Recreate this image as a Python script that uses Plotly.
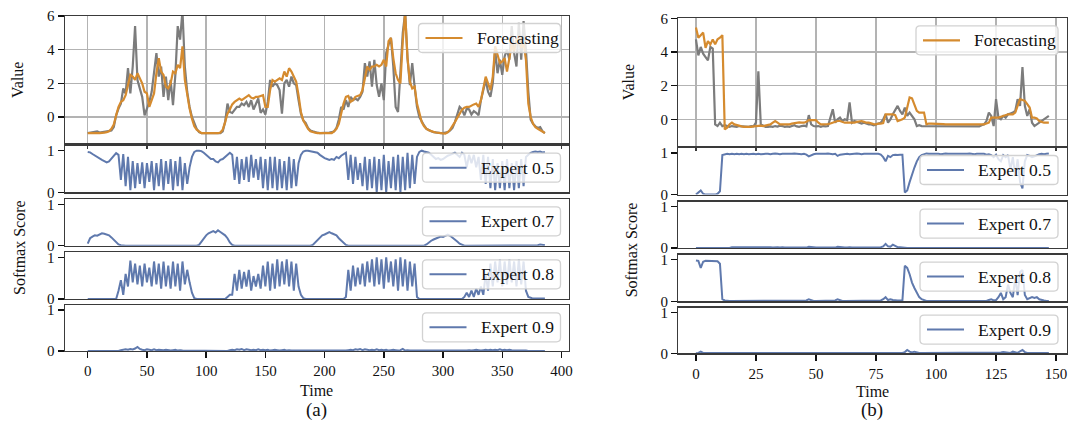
import plotly.graph_objects as go

W, H = 1070, 428

# ---------------- Panel (a) data (time step 2) ----------------
time_a = list(range(0, 388, 2))

truth_a = [
    -0.95, -0.93, -0.92, -0.9, -0.85, -0.92, -0.9, -0.9, -0.88, -0.85,
    -0.8, -0.6, 0.1, 0.5, 0.8, 1.7, 1.4, 2.9, 1.4, 3.0,
    5.4, 2.2, 1.7, 1.2, 0.1, 0.5, 0.9, 1.5, 2.8, 3.8,
    2.4, 3.0, 1.2, 2.4, 1.0, 2.2, 0.7, 2.5, 5.4, 4.6,
    6.3, 3.0, 1.5, 0.6, 0.0, -0.4, -0.7, -0.9, -0.95, -0.95,
    -0.96, -0.95, -0.97, -0.95, -0.96, -0.95, -0.95, -0.85, -0.3, 0.8,
    0.3, 0.24, 0.45, 0.6, 0.6, 0.8, 0.7, 0.9, 0.6, 1.0,
    0.45, 0.8, 1.1, 0.25, 0.45, 0.15, 0.9, 2.2, 1.8, 2.0,
    1.9, 1.6, 0.2, 2.0, 2.2, 1.8, 2.4, 2.0, 1.9, 1.0,
    0.2, -0.2, -0.35, -0.65, -0.8, -0.85, -0.9, -0.93, -0.95, -0.95,
    -0.96, -0.95, -0.93, -0.9, -0.85, -0.65, -0.15, 0.6, 0.45, 1.0,
    0.6, 1.2, 1.0, 1.1, 1.0, 1.2, 1.5, 3.2, 2.4, 3.3,
    1.8, 3.4, 1.9, 1.2, 2.0, 1.0, 3.8, 4.3, 4.7, 3.0,
    0.6, 0.3, 2.6, 5.0, 6.2, 3.5, 1.9, 3.2, 1.8, 0.6,
    0.0, -0.3, -0.5, -0.7, -0.8, -0.85, -0.9, -0.93, -0.95, -0.95,
    -0.96, -0.95, -0.9, -0.8, -0.65, -0.3, 0.1, 0.6, 0.45, 0.1,
    0.5, 0.45, 0.15, 0.35, 0.25, 0.1, 1.0, 1.6, 2.2, 1.5,
    1.2, 2.0, 4.0, 2.6, 3.4, 2.5, 3.6, 4.0, 3.4, 5.4,
    3.8, 3.0, 5.6, 3.4, 5.7, 4.0, 1.5, -0.15, -0.4, -0.55,
    -0.65, -0.6, -0.85, -0.95,
]

forecast_a = [
    -0.95, -0.96, -0.95, -0.95, -0.96, -0.95, -0.95, -0.93, -0.9, -0.85,
    -0.7, -0.45, 0.1, 0.6, 0.9, 1.0, 1.3, 1.9, 2.5, 2.4,
    2.2, 2.6, 2.3, 2.0, 1.5, 1.4, 0.6, 1.0, 1.4, 2.6,
    3.5, 2.7, 2.5, 1.8, 1.7, 2.0, 2.7, 2.6, 3.1, 2.9,
    4.2, 2.2, 1.2, 0.5, -0.1, -0.55, -0.75, -0.88, -0.95, -0.95,
    -0.96, -0.97, -0.96, -0.95, -0.95, -0.96, -0.92, -0.75, -0.3, 0.2,
    0.45, 0.75, 0.9, 1.0, 1.1, 1.0, 1.1, 1.2, 1.3, 1.15,
    1.1, 1.2, 1.2, 1.25, 1.3, 0.6, 0.6, 1.6, 2.2, 2.1,
    2.2, 2.3, 2.2, 2.7, 2.4, 2.9, 2.7, 2.4, 2.1, 1.3,
    0.3, -0.2, -0.5, -0.7, -0.85, -0.9, -0.93, -0.95, -0.95, -0.96,
    -0.97, -0.98, -0.98, -0.96, -0.85, -0.7, -0.4, 0.2, 0.8, 1.2,
    1.25, 0.9, 1.0, 1.2, 1.25, 1.3, 1.6, 2.4, 3.0, 2.8,
    3.0, 3.0, 3.1, 3.0, 3.1, 3.4, 3.0, 4.5, 4.7, 3.5,
    2.6, 2.2, 2.0, 4.5, 6.2, 3.5, 2.1, 1.7, 1.8, 0.8,
    0.2, -0.3, -0.55, -0.7, -0.78, -0.85, -0.88, -0.92, -0.95, -0.96,
    -0.97, -0.98, -0.9, -0.75, -0.55, -0.3, -0.05, 0.2, 0.43, 0.55,
    0.6, 0.6, 0.7, 0.75, 0.8, 0.6, 1.0, 1.8, 2.4, 2.0,
    1.6, 2.4, 4.2, 3.7, 3.2, 3.3, 3.5, 2.7, 3.6, 4.3,
    3.9, 4.6, 4.8, 4.1, 4.4, 3.4, 0.8, 0.0, -0.4, -0.6,
    -0.7, -0.8, -0.88, -0.95,
]

expert05_a = [
    0.97, 0.96, 0.92, 0.88, 0.84, 0.8, 0.78, 0.75, 0.72, 0.74,
    0.8, 0.86, 0.94, 0.9, 0.3, 0.92, 0.15, 0.85, 0.05, 0.75,
    0.1, 0.7, 0.2, 0.72, 0.1, 0.7, 0.25, 0.75, 0.05, 0.7,
    0.15, 0.8, 0.05, 0.75, 0.2, 0.8, 0.05, 0.75, 0.15, 0.85,
    0.05, 0.7, 0.2, 0.6, 0.85, 0.97, 1.0, 1.0, 0.99, 0.95,
    0.9, 0.85, 0.8, 0.8, 0.74, 0.72, 0.78, 0.8, 0.85, 0.9,
    0.95, 0.9, 0.3, 0.85, 0.2, 0.8, 0.3, 0.85, 0.25, 0.9,
    0.35, 0.8, 0.3, 0.85, 0.1, 0.8, 0.05, 0.85, 0.1, 0.85,
    0.05, 0.8, 0.1, 0.75, 0.05, 0.85, 0.1, 0.8, 0.15, 0.7,
    0.9, 0.98, 1.0, 1.0, 0.99, 0.98, 0.97, 0.95, 0.9, 0.85,
    0.82, 0.8, 0.78, 0.8, 0.78, 0.85, 0.82, 0.88, 0.92, 0.95,
    0.3, 0.9, 0.2, 0.85, 0.3, 0.7, 0.15, 0.85, 0.05, 0.8,
    0.1, 0.85, 0.0, 0.8, 0.05, 0.9, 0.0, 0.75, 0.1, 0.85,
    0.05, 0.9, 0.0, 0.85, 0.05, 0.95, 0.1, 0.9, 0.2, 0.85,
    0.97, 1.0, 0.98, 0.97, 0.95, 0.9, 0.85, 0.8, 0.82, 0.78,
    0.8, 0.85, 0.88, 0.9, 0.92, 0.95, 0.9, 0.85, 0.95, 0.9,
    0.6, 0.9, 0.7, 0.9, 0.6, 0.85, 0.3, 0.9, 0.2, 0.85,
    0.1, 0.8, 0.05, 0.7, 0.1, 0.75, 0.05, 0.8, 0.1, 0.7,
    0.05, 0.75, 0.1, 0.8, 0.15, 0.85, 0.9, 0.95, 0.97, 0.98,
    0.97, 0.98, 0.96, 0.97,
]

expert07_a = [
    0.05, 0.18, 0.22, 0.25, 0.24, 0.28, 0.3, 0.29, 0.27, 0.25,
    0.2, 0.15, 0.08, 0.03, 0.01, 0.0, 0.0, 0.0, 0.0, 0.0,
    0.0, 0.0, 0.0, 0.0, 0.0, 0.0, 0.0, 0.0, 0.0, 0.0,
    0.0, 0.0, 0.0, 0.0, 0.0, 0.0, 0.0, 0.0, 0.0, 0.0,
    0.0, 0.0, 0.0, 0.0, 0.0, 0.0, 0.0, 0.02, 0.1, 0.2,
    0.25, 0.3, 0.33, 0.35, 0.32, 0.37, 0.33, 0.3, 0.25, 0.18,
    0.08, 0.02, 0.0, 0.0, 0.0, 0.0, 0.0, 0.0, 0.0, 0.0,
    0.0, 0.0, 0.0, 0.0, 0.0, 0.0, 0.0, 0.0, 0.0, 0.0,
    0.0, 0.0, 0.0, 0.0, 0.0, 0.0, 0.0, 0.0, 0.0, 0.0,
    0.0, 0.0, 0.0, 0.0, 0.0, 0.02, 0.08, 0.15, 0.2, 0.25,
    0.27, 0.3, 0.33, 0.3, 0.28, 0.25, 0.18, 0.12, 0.06, 0.02,
    0.0, 0.0, 0.0, 0.0, 0.0, 0.0, 0.0, 0.0, 0.0, 0.0,
    0.0, 0.0, 0.0, 0.0, 0.0, 0.0, 0.0, 0.0, 0.0, 0.0,
    0.0, 0.0, 0.0, 0.0, 0.0, 0.0, 0.0, 0.0, 0.0, 0.0,
    0.0, 0.0, 0.0, 0.03, 0.08, 0.12, 0.15, 0.17, 0.2, 0.22,
    0.21, 0.25, 0.27, 0.24, 0.2, 0.15, 0.1, 0.05, 0.02, 0.0,
    0.0, 0.0, 0.0, 0.0, 0.0, 0.0, 0.0, 0.0, 0.0, 0.0,
    0.0, 0.0, 0.0, 0.0, 0.0, 0.0, 0.0, 0.0, 0.0, 0.0,
    0.0, 0.0, 0.0, 0.0, 0.0, 0.0, 0.0, 0.0, 0.0, 0.0,
    0.01, 0.03, 0.02, 0.01,
]

expert08_a = [
    0.0, 0.0, 0.0, 0.0, 0.0, 0.0, 0.0, 0.0, 0.0, 0.0,
    0.0, 0.0, 0.0, 0.2, 0.45, 0.1, 0.6, 0.3, 0.92, 0.4,
    0.85, 0.35, 0.8, 0.3, 0.85, 0.4, 0.75, 0.3, 0.9, 0.35,
    0.85, 0.25, 0.9, 0.3, 0.8, 0.25, 0.9, 0.3, 0.85, 0.2,
    0.9, 0.35, 0.7, 0.4, 0.15, 0.02, 0.0, 0.0, 0.0, 0.0,
    0.0, 0.0, 0.0, 0.0, 0.0, 0.0, 0.0, 0.0, 0.0, 0.05,
    0.1, 0.1, 0.6, 0.2, 0.7, 0.25, 0.65, 0.3, 0.7, 0.2,
    0.55, 0.3, 0.6, 0.25, 0.8, 0.3, 0.9, 0.2, 0.85, 0.25,
    0.95, 0.3, 0.9, 0.35, 0.95, 0.3, 0.9, 0.2, 0.85, 0.3,
    0.1, 0.02, 0.0, 0.0, 0.0, 0.0, 0.0, 0.0, 0.0, 0.0,
    0.0, 0.0, 0.0, 0.0, 0.0, 0.0, 0.0, 0.0, 0.0, 0.05,
    0.7, 0.2, 0.8, 0.3, 0.75, 0.35, 0.85, 0.3, 0.9, 0.4,
    0.95, 0.3, 1.0, 0.35, 0.95, 0.25, 1.0, 0.4, 0.9, 0.3,
    0.95, 0.2, 1.0, 0.3, 0.95, 0.2, 0.9, 0.3, 0.85, 0.05,
    0.0, 0.0, 0.0, 0.0, 0.0, 0.0, 0.0, 0.0, 0.0, 0.0,
    0.0, 0.0, 0.0, 0.0, 0.0, 0.0, 0.0, 0.0, 0.0, 0.05,
    0.15, 0.05, 0.2, 0.05, 0.25, 0.1, 0.3, 0.1, 0.6, 0.2,
    0.85, 0.3, 0.9, 0.4, 0.95, 0.3, 0.9, 0.35, 0.95, 0.4,
    0.9, 0.3, 0.95, 0.35, 0.9, 0.2, 0.05, 0.03, 0.01, 0.01,
    0.01, 0.01, 0.01, 0.01,
]

expert09_a = [
    0.0, 0.0, 0.0, 0.0, 0.0, 0.0, 0.0, 0.0, 0.0, 0.0,
    0.0, 0.0, 0.0, 0.0, 0.02, 0.03, 0.04, 0.03, 0.05, 0.04,
    0.06, 0.1, 0.05, 0.03, 0.02, 0.04, 0.03, 0.02, 0.04, 0.02,
    0.03, 0.02, 0.02, 0.03, 0.02, 0.01, 0.02, 0.03, 0.01, 0.02,
    0.01, 0.01, 0.0, 0.0, 0.0, 0.0, 0.0, 0.0, 0.0, 0.0,
    0.0, 0.0, 0.0, 0.0, 0.0, 0.0, 0.0, 0.0, 0.0, 0.0,
    0.02, 0.03, 0.02, 0.04, 0.03, 0.05, 0.02, 0.04, 0.03, 0.02,
    0.03, 0.02, 0.04, 0.02, 0.03, 0.02, 0.03, 0.01, 0.02, 0.03,
    0.02, 0.01, 0.02, 0.03, 0.01, 0.02, 0.01, 0.01, 0.0, 0.0,
    0.0, 0.0, 0.0, 0.0, 0.0, 0.0, 0.0, 0.0, 0.0, 0.0,
    0.0, 0.0, 0.0, 0.0, 0.0, 0.0, 0.0, 0.0, 0.0, 0.01,
    0.02, 0.03, 0.02, 0.04, 0.03, 0.05, 0.02, 0.04, 0.03, 0.02,
    0.03, 0.02, 0.04, 0.02, 0.03, 0.02, 0.03, 0.01, 0.02, 0.03,
    0.02, 0.01, 0.02, 0.05, 0.01, 0.02, 0.01, 0.01, 0.0, 0.0,
    0.0, 0.0, 0.0, 0.0, 0.0, 0.0, 0.0, 0.0, 0.0, 0.0,
    0.0, 0.0, 0.0, 0.0, 0.0, 0.0, 0.0, 0.0, 0.0, 0.0,
    0.01, 0.02, 0.01, 0.02, 0.03, 0.02, 0.01, 0.02, 0.03, 0.02,
    0.03, 0.02, 0.03, 0.02, 0.04, 0.02, 0.03, 0.02, 0.03, 0.02,
    0.02, 0.01, 0.02, 0.01, 0.01, 0.01, 0.0, 0.0, 0.0, 0.0,
    0.0, 0.0, 0.0, 0.0,
]

# ---------------- Panel (b) data (time step 1) ----------------
time_b = list(range(0, 148))

truth_b = [
    4.75, 3.8, 4.3, 3.9, 3.7, 3.5, 4.3, 4.2, -0.3, -0.4,
    -0.2, -0.4, -0.35, -0.4, -0.45, -0.4, -0.42, -0.45, -0.4, -0.42,
    -0.45, -0.43, -0.45, -0.4, -0.42, -0.2, 2.85, -0.3, -0.4, -0.45,
    -0.45, -0.42, -0.45, -0.4, -0.43, -0.38, -0.4, -0.45, -0.42, -0.45,
    -0.4, -0.35, -0.42, -0.45, -0.4, -0.38, -0.42, 0.25, -0.3, -0.4,
    -0.42, -0.4, -0.45, -0.4, -0.42, -0.4, 0.1, 0.6, -0.2, 0.0,
    0.1, -0.1, 0.0, -0.05, 1.0, -0.2, -0.1, -0.15, -0.2, -0.25,
    -0.2, -0.25, -0.3, -0.3, -0.35, -0.3, -0.25, -0.2, 0.0, 0.3,
    -0.2, 0.0, 0.3, 0.6, 0.8, 0.5, 0.3, 0.7, 0.2, 0.4,
    0.2, 0.0, -0.4, -0.35, -0.4, -0.4, -0.42, -0.4, -0.42, -0.4,
    -0.42, -0.4, -0.42, -0.4, -0.38, -0.42, -0.4, -0.42, -0.4, -0.42,
    -0.4, -0.42, -0.4, -0.38, -0.4, -0.42, -0.4, -0.38, -0.42, -0.35,
    -0.3, -0.1, 0.4, 0.2, -0.4, 1.2, 0.1, 0.0, 0.2, 0.1,
    0.3, 0.35, 0.4, 0.5, 1.2, 0.8, 3.1, 0.8, 0.2, 0.6,
    -0.2, -0.4, -0.3, -0.15, -0.1, 0.0, 0.1, 0.2,
]

forecast_b = [
    5.45, 4.85, 5.0, 5.15, 4.25, 4.65, 4.45, 4.75, 4.45, 4.75,
    4.85, 5.0, -0.6, -0.5, -0.3, -0.2, -0.3, -0.35, -0.4, -0.42,
    -0.45, -0.45, -0.47, -0.45, -0.42, -0.4, -0.4, -0.38, -0.4, -0.38,
    -0.35, -0.3, -0.2, -0.1, -0.2, -0.3, -0.3, -0.3, -0.3, -0.3,
    -0.25, -0.22, -0.2, -0.18, -0.2, -0.2, -0.15, -0.05, -0.05, -0.05,
    -0.05, -0.2, -0.3, -0.3, -0.3, -0.28, -0.25, -0.2, -0.15, -0.1,
    -0.1, -0.15, -0.2, -0.2, -0.2, -0.2, -0.2, -0.15, -0.12, -0.1,
    -0.15, -0.2, -0.2, -0.25, -0.28, -0.3, -0.25, -0.25, -0.22, 0.3,
    0.3, 0.3, 0.3, 0.25, -0.1, -0.05, 0.0, 0.1, 0.8, 1.3,
    1.25, 0.9, 0.5, 0.4, 0.4, 0.4, -0.3, -0.25, -0.25, -0.25,
    -0.25, -0.25, -0.27, -0.28, -0.3, -0.3, -0.28, -0.3, -0.32, -0.3,
    -0.3, -0.3, -0.28, -0.3, -0.3, -0.32, -0.3, -0.3, -0.28, -0.3,
    -0.3, -0.25, -0.2, 0.1, 0.1, 0.1, 0.1, 0.15, 0.2, 0.25,
    0.3, 0.3, 0.3, 0.4, 0.8, 1.2, 1.15, 1.1, 0.9, 0.7,
    0.1, 0.1, 0.05, -0.1, -0.15, -0.2, -0.2, -0.2,
]

expert05_b = [
    0.0, 0.05, 0.1, 0.02, 0.0, 0.0, 0.0, 0.0, 0.0, 0.02,
    0.08, 0.95, 0.97, 0.98, 0.97, 0.98, 0.97, 0.98, 0.97, 0.98,
    0.97, 0.98, 0.97, 0.98, 0.98, 0.97, 0.98, 0.97, 0.98, 0.98,
    0.98, 0.97, 0.98, 0.99, 0.98, 0.97, 0.98, 0.98, 0.97, 0.98,
    0.98, 0.99, 0.98, 0.98, 0.97, 0.98, 0.96, 0.92, 0.95, 0.97,
    0.98, 0.98, 0.97, 0.98, 0.98, 0.99, 0.98, 0.97, 0.98, 0.93,
    0.96, 0.97, 0.98, 0.98, 0.97, 0.98, 0.98, 0.99, 0.98, 0.97,
    0.98, 0.98, 0.97, 0.98, 0.98, 0.97, 0.98, 0.96, 0.9, 0.8,
    0.93, 0.9, 0.95, 0.96, 0.95, 0.96, 0.96, 0.05, 0.1, 0.3,
    0.45, 0.65, 0.8, 0.9, 0.95, 0.98, 0.99, 0.98, 0.98, 0.99,
    0.98, 0.98, 0.97, 0.98, 0.99, 0.98, 0.98, 0.97, 0.98, 0.98,
    0.98, 0.97, 0.98, 0.98, 0.99, 0.98, 0.97, 0.98, 0.98, 0.97,
    0.98, 0.96, 0.97, 0.95, 0.9, 0.96, 0.85, 0.8, 0.95, 0.9,
    0.95, 0.6, 0.9, 0.45, 0.85, 0.3, 0.15, 0.8, 0.95, 0.93,
    0.9, 0.92, 0.95, 0.97, 0.98, 0.97, 0.98, 0.99,
]

expert07_b = [
    0.0, 0.0, 0.0, 0.0, 0.0, 0.0, 0.0, 0.0, 0.0, 0.0,
    0.0, 0.0, 0.0, 0.0, 0.0, 0.02, 0.02, 0.03, 0.02, 0.02,
    0.03, 0.02, 0.02, 0.03, 0.02, 0.02, 0.02, 0.03, 0.02, 0.02,
    0.02, 0.02, 0.01, 0.02, 0.02, 0.01, 0.02, 0.01, 0.01, 0.02,
    0.01, 0.02, 0.01, 0.01, 0.02, 0.01, 0.01, 0.03, 0.02, 0.01,
    0.01, 0.01, 0.01, 0.01, 0.01, 0.01, 0.02, 0.01, 0.01, 0.03,
    0.02, 0.01, 0.01, 0.01, 0.02, 0.01, 0.01, 0.02, 0.01, 0.01,
    0.01, 0.01, 0.02, 0.01, 0.01, 0.02, 0.01, 0.02, 0.04, 0.1,
    0.04, 0.03, 0.08, 0.04, 0.02, 0.02, 0.01, 0.0, 0.0, 0.0,
    0.0, 0.0, 0.0, 0.0, 0.0, 0.0, 0.01, 0.0, 0.0, 0.0,
    0.0, 0.0, 0.0, 0.01, 0.0, 0.0, 0.0, 0.0, 0.0, 0.0,
    0.0, 0.0, 0.0, 0.0, 0.0, 0.0, 0.0, 0.0, 0.0, 0.0,
    0.0, 0.0, 0.0, 0.0, 0.0, 0.0, 0.0, 0.0, 0.0, 0.0,
    0.0, 0.0, 0.0, 0.0, 0.0, 0.0, 0.0, 0.0, 0.0, 0.0,
    0.0, 0.0, 0.0, 0.0, 0.0, 0.0, 0.0, 0.0,
]

expert08_b = [
    0.98, 0.97, 0.8, 0.95, 0.97, 0.97, 0.97, 0.96, 0.97, 0.96,
    0.9, 0.05, 0.02, 0.01, 0.01, 0.01, 0.01, 0.01, 0.01, 0.01,
    0.01, 0.01, 0.01, 0.01, 0.01, 0.01, 0.01, 0.01, 0.01, 0.01,
    0.01, 0.01, 0.01, 0.01, 0.01, 0.01, 0.01, 0.01, 0.01, 0.01,
    0.01, 0.01, 0.01, 0.01, 0.01, 0.01, 0.02, 0.05, 0.03, 0.01,
    0.01, 0.01, 0.01, 0.01, 0.01, 0.01, 0.01, 0.01, 0.02, 0.05,
    0.02, 0.01, 0.01, 0.01, 0.01, 0.01, 0.01, 0.01, 0.01, 0.01,
    0.01, 0.01, 0.01, 0.01, 0.01, 0.01, 0.01, 0.02, 0.05, 0.1,
    0.03, 0.05, 0.03, 0.02, 0.02, 0.02, 0.02, 0.85, 0.8, 0.65,
    0.45, 0.32, 0.2, 0.1, 0.05, 0.02, 0.01, 0.01, 0.01, 0.01,
    0.01, 0.01, 0.01, 0.01, 0.01, 0.01, 0.01, 0.01, 0.01, 0.01,
    0.01, 0.01, 0.01, 0.01, 0.01, 0.01, 0.01, 0.01, 0.01, 0.01,
    0.01, 0.01, 0.03, 0.05, 0.02, 0.03, 0.1, 0.2, 0.05, 0.1,
    0.4, 0.2, 0.1, 0.55, 0.15, 0.7, 0.75, 0.15, 0.05, 0.08,
    0.1, 0.08, 0.1, 0.05, 0.03, 0.02, 0.01, 0.01,
]

expert09_b = [
    0.0, 0.01, 0.04, 0.01, 0.01, 0.01, 0.01, 0.01, 0.01, 0.01,
    0.01, 0.01, 0.01, 0.01, 0.01, 0.01, 0.01, 0.01, 0.01, 0.01,
    0.01, 0.01, 0.01, 0.01, 0.01, 0.01, 0.01, 0.01, 0.01, 0.01,
    0.01, 0.01, 0.01, 0.01, 0.01, 0.01, 0.01, 0.01, 0.01, 0.01,
    0.01, 0.01, 0.01, 0.01, 0.01, 0.01, 0.01, 0.01, 0.01, 0.01,
    0.01, 0.01, 0.01, 0.01, 0.01, 0.01, 0.01, 0.01, 0.01, 0.01,
    0.01, 0.01, 0.01, 0.01, 0.01, 0.01, 0.01, 0.01, 0.01, 0.01,
    0.01, 0.01, 0.01, 0.01, 0.01, 0.01, 0.01, 0.01, 0.01, 0.01,
    0.01, 0.01, 0.01, 0.01, 0.01, 0.01, 0.01, 0.03, 0.08, 0.04,
    0.02, 0.04, 0.02, 0.01, 0.01, 0.01, 0.01, 0.01, 0.01, 0.01,
    0.01, 0.01, 0.01, 0.01, 0.01, 0.01, 0.01, 0.01, 0.01, 0.01,
    0.01, 0.01, 0.01, 0.01, 0.01, 0.01, 0.01, 0.01, 0.01, 0.01,
    0.01, 0.01, 0.01, 0.01, 0.01, 0.02, 0.01, 0.02, 0.03, 0.02,
    0.02, 0.01, 0.04, 0.02, 0.01, 0.05, 0.08, 0.03, 0.01, 0.01,
    0.01, 0.01, 0.01, 0.01, 0.01, 0.01, 0.01, 0.01,
]

expert_names = ["Expert 0.5", "Expert 0.7", "Expert 0.8", "Expert 0.9"]
ticks_a = [0, 50, 100, 150, 200, 250, 300, 350, 400]
ticks_b = [0, 25, 50, 75, 100, 125, 150]

# ---------------- styling ----------------
FONT = "Liberation Serif"
GRAY = "#7c7c7c"
ORANGE = "#d58b2f"
BLUE = "#5f79ad"
SPINE = "#3a3a3a"


def py(px):
    return 1 - px / H


def pxx(px):
    return px / W


def rounded_box(x0, y0, x1, y1, r):
    X, Y = pxx, py
    return (f"M {X(x0 + r)},{Y(y0)} L {X(x1 - r)},{Y(y0)} "
            f"Q {X(x1)},{Y(y0)} {X(x1)},{Y(y0 + r)} L {X(x1)},{Y(y1 - r)} "
            f"Q {X(x1)},{Y(y1)} {X(x1 - r)},{Y(y1)} L {X(x0 + r)},{Y(y1)} "
            f"Q {X(x0)},{Y(y1)} {X(x0)},{Y(y1 - r)} L {X(x0)},{Y(y0 + r)} "
            f"Q {X(x0)},{Y(y0)} {X(x0 + r)},{Y(y0)} Z")


panels = [
    dict(name="a", x0=64.8, x1=569.0, dy=0.0, time=time_a,
         truth=truth_a, fc=forecast_a,
         experts=[expert05_a, expert07_a, expert08_a, expert09_a],
         ticks=ticks_a, xrange=[-19.35, 406.35]),
    dict(name="b", x0=678.3, x1=1066.5, dy=2.3, time=time_b,
         truth=truth_b, fc=forecast_b,
         experts=[expert05_b, expert07_b, expert08_b, expert09_b],
         ticks=ticks_b, xrange=[-7.35, 154.35]),
]

rows_px = [(16.0, 143.3), (145.7, 192.3), (199.3, 245.7), (252.3, 299.0), (305.3, 351.0)]

fig = go.Figure()
layout = dict(
    template="none",
    width=W, height=H,
    margin=dict(l=0, r=0, t=0, b=0, autoexpand=False),
    paper_bgcolor="white", plot_bgcolor="white",
    font=dict(family=FONT, size=15, color="#111"),
    showlegend=False,
    annotations=[],
    shapes=[],
)

k = 0
for p in panels:
    first_k = k + 1
    for r in range(5):
        k += 1
        top, bot = rows_px[r]
        top += p["dy"]
        bot += p["dy"]
        xa = "x" if k == 1 else f"x{k}"
        ya = "y" if k == 1 else f"y{k}"
        xkey = "xaxis" if k == 1 else f"xaxis{k}"
        ykey = "yaxis" if k == 1 else f"yaxis{k}"

        if r == 0:
            fig.add_trace(go.Scatter(x=p["time"], y=p["truth"], mode="lines",
                                     name="Ground truth",
                                     line=dict(color=GRAY, width=2.2),
                                     xaxis=xa, yaxis=ya))
            fig.add_trace(go.Scatter(x=p["time"], y=p["fc"], mode="lines",
                                     name="Forecasting",
                                     line=dict(color=ORANGE, width=2.2),
                                     xaxis=xa, yaxis=ya))
            label, lcolor, lwidth, bw = "Forecasting", ORANGE, 2.2, 142
        else:
            fig.add_trace(go.Scatter(x=p["time"], y=p["experts"][r - 1], mode="lines",
                                     name=expert_names[r - 1],
                                     line=dict(color=BLUE, width=2.0),
                                     xaxis=xa, yaxis=ya))
            label, lcolor, lwidth, bw = expert_names[r - 1], BLUE, 2.0, 138

        xaxis = dict(
            domain=[pxx(p["x0"]), pxx(p["x1"])], anchor=ya,
            range=p["xrange"], showline=True, mirror=True, linecolor=SPINE, linewidth=1.2,
            tickvals=p["ticks"], zeroline=False, fixedrange=True, automargin=False,
        )
        if k != first_k:
            xaxis["matches"] = "x" if first_k == 1 else f"x{first_k}"
        if r == 0:
            xaxis.update(showgrid=True, gridcolor="#b3b3b3", gridwidth=1.5,
                         ticks="outside", ticklen=4, tickwidth=1.2, tickcolor=SPINE,
                         showticklabels=False)
        elif r == 4:
            xaxis.update(showgrid=False, ticks="outside", ticklen=6, tickwidth=1.5,
                         tickcolor="#111", showticklabels=True,
                         tickfont=dict(family=FONT, size=15, color="#111"))
        else:
            xaxis.update(showgrid=False, ticks="", showticklabels=False)

        yaxis = dict(
            domain=[py(bot), py(top)], anchor=xa,
            showline=True, mirror=True, linecolor=SPINE, linewidth=1.2,
            ticks="outside", ticklen=6, tickwidth=1.5, tickcolor="#111",
            zeroline=False, fixedrange=True, automargin=False,
            tickfont=dict(family=FONT, size=15, color="#111"),
        )
        if r == 0:
            yaxis.update(range=[-1.56, 6], tickvals=[0, 2, 4, 6], showgrid=True,
                         gridcolor="#b3b3b3", gridwidth=1.5)
        else:
            yaxis.update(range=[0, 1.12], tickvals=[0, 1], showgrid=False)

        layout[xkey] = xaxis
        layout[ykey] = yaxis

        # legend box (matplotlib-like rounded frame, semi-transparent)
        bx1 = p["x1"] - 8.5
        bx0 = bx1 - bw
        by0 = top + 7.5
        by1 = by0 + 29
        cy = (by0 + by1) / 2
        layout["shapes"] += [
            dict(type="path", path=rounded_box(bx0, by0, bx1, by1, 4), xref="paper",
                 yref="paper", fillcolor="rgba(255,255,255,0.8)",
                 line=dict(color="#d2d2d2", width=1.3), layer="above"),
            dict(type="line", xref="paper", yref="paper", x0=pxx(bx0 + 7), x1=pxx(bx0 + 44),
                 y0=py(cy), y1=py(cy), line=dict(color=lcolor, width=lwidth), layer="above"),
        ]
        layout["annotations"].append(
            dict(text=label, x=pxx(bx0 + 56), y=py(cy), xref="paper", yref="paper",
                 showarrow=False, xanchor="left", yanchor="middle",
                 font=dict(family=FONT, size=17.5, color="#111")))

    # axis titles and captions
    xc = (p["x0"] + p["x1"]) / 2
    lx = 17 if p["name"] == "a" else 628
    layout["annotations"] += [
        dict(text="Value", x=pxx(lx), y=py(80 + p["dy"]), xref="paper", yref="paper",
             textangle=-90, showarrow=False, xanchor="center", yanchor="middle",
             font=dict(family=FONT, size=16, color="#111")),
        dict(text="Softmax Score", x=pxx(lx + 3), y=py(248 + p["dy"]), xref="paper",
             yref="paper", textangle=-90, showarrow=False, xanchor="center",
             yanchor="middle", font=dict(family=FONT, size=16, color="#111")),
        dict(text="Time", x=pxx(xc), y=py(390 + p["dy"] / 2), xref="paper", yref="paper",
             showarrow=False, xanchor="center", yanchor="middle",
             font=dict(family=FONT, size=16, color="#111")),
        dict(text=f"({p['name']})", x=pxx(xc), y=py(410), xref="paper", yref="paper",
             showarrow=False, xanchor="center", yanchor="middle",
             font=dict(family=FONT, size=19, color="#111")),
    ]

fig.update_layout(**layout)
fig.write_html("out.html",
               config={"displayModeBar": False, "staticPlot": True},
               post_script="document.body.style.margin='0';document.body.style.padding='0';")
